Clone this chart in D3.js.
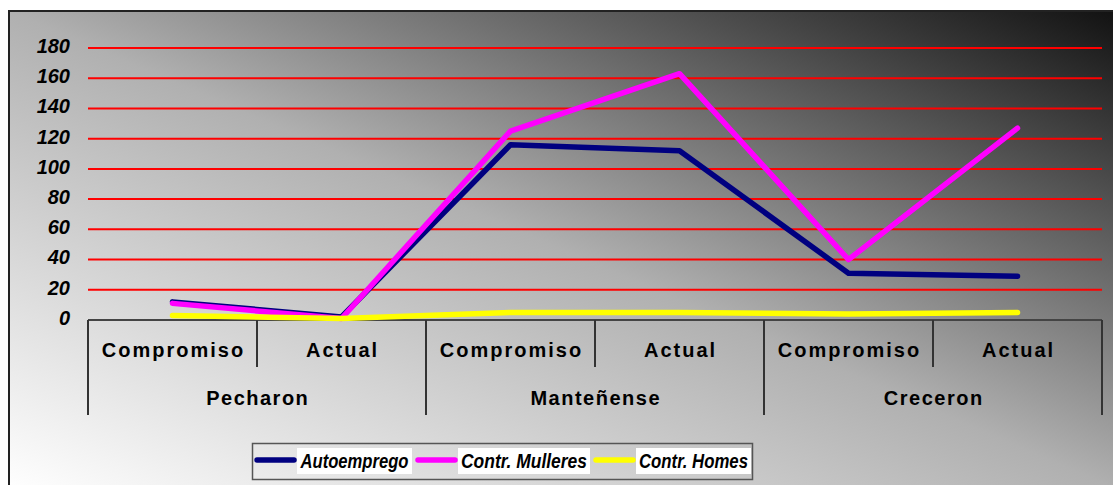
<!DOCTYPE html>
<html>
<head>
<meta charset="utf-8">
<script src="https://cdn.jsdelivr.net/npm/d3@7"></script>
<style>
  body { margin: 0; background: #fff; }
  text { font-family: "Liberation Sans", Arial, sans-serif; fill: #000; }
</style>
</head>
<body>
<div id="chart"></div>
<script>
// data
var groups = ["Pecharon", "Manteñense", "Creceron"];
var categories = ["Compromiso", "Actual"];
var yTicks = [0, 20, 40, 60, 80, 100, 120, 140, 160, 180];

var autoemprego = [12, 2, 116, 112, 31, 29];
var mulleres = [11, 1, 125, 163, 40, 127];
var homes = [3, 1, 5, 5, 4, 5];

var seriesNames = ["Autoemprego", "Contr. Mulleres", "Contr. Homes"];
var seriesColors = ["#000080", "#ff00ff", "#ffff00"];

var width = 1113;
var height = 485;

var svg = d3
  .select("#chart")
  .append("svg")
  .attr("width", width)
  .attr("height", height);

// background gradient, light bottom-left to dark top-right
var defs = svg.append("defs");
var grad = defs
  .append("linearGradient")
  .attr("id", "bg")
  .attr("x1", 0)
  .attr("y1", 1)
  .attr("x2", 1)
  .attr("y2", 0);
grad.append("stop").attr("offset", "0%").attr("stop-color", "#ffffff");
grad.append("stop").attr("offset", "50%").attr("stop-color", "#b0b0b0");
grad.append("stop").attr("offset", "100%").attr("stop-color", "#111111");

svg
  .append("rect")
  .attr("x", 9)
  .attr("y", 11)
  .attr("width", 1112)
  .attr("height", 480)
  .attr("fill", "url(#bg)")
  .attr("stroke", "#222")
  .attr("stroke-width", 2);

// every category slot: group x category
var slots = [];
groups.forEach(function (g) {
  categories.forEach(function (c) {
    slots.push({ group: g, cat: c });
  });
});

var plotLeft = 88;
var plotRight = 1102;
var plotTop = 48;
var plotBottom = 320;

var xScale = d3
  .scaleBand()
  .domain(d3.range(slots.length))
  .range([plotLeft, plotRight]);

var yScale = d3.scaleLinear().domain([0, 180]).range([plotBottom, plotTop]);

// gridlines
svg
  .append("g")
  .selectAll("line")
  .data(yTicks.filter(function (d) { return d > 0; }))
  .enter()
  .append("line")
  .attr("x1", plotLeft)
  .attr("x2", plotRight)
  .attr("y1", function (d) { return yScale(d); })
  .attr("y2", function (d) { return yScale(d); })
  .attr("stroke", "#ff0000")
  .attr("stroke-width", 2);

// y axis labels
var yAxis = d3.axisLeft(yScale).tickValues(yTicks).tickSize(0).tickPadding(18);
var yG = svg
  .append("g")
  .attr("transform", "translate(" + plotLeft + ",0)")
  .call(yAxis);
yG.select(".domain").remove();
yG.selectAll("text")
  .attr("dy", "0.22em")
  .style("font-size", "20px")
  .style("font-weight", "bold")
  .style("font-style", "italic")
  .style("fill", "#000");

// x axis base line
svg
  .append("line")
  .attr("x1", plotLeft)
  .attr("x2", plotRight)
  .attr("y1", plotBottom)
  .attr("y2", plotBottom)
  .attr("stroke", "#444")
  .attr("stroke-width", 2);

// category separators
var bw = xScale.bandwidth();
var sepG = svg.append("g").attr("stroke", "#333").attr("stroke-width", 2);
d3.range(slots.length + 1).forEach(function (i) {
  var x = plotLeft + i * bw;
  var isGroupEdge = i % categories.length === 0;
  sepG
    .append("line")
    .attr("x1", x)
    .attr("x2", x)
    .attr("y1", plotBottom)
    .attr("y2", isGroupEdge ? 415 : 367);
});

// category labels
svg
  .append("g")
  .selectAll("text")
  .data(slots)
  .enter()
  .append("text")
  .attr("x", function (d, i) { return xScale(i) + bw / 2 + 1; })
  .attr("y", 357)
  .attr("text-anchor", "middle")
  .style("font-size", "20px")
  .style("font-weight", "bold")
  .style("letter-spacing", "2px")
  .text(function (d) { return d.cat; });

// group labels
svg
  .append("g")
  .selectAll("text")
  .data(groups)
  .enter()
  .append("text")
  .attr("x", function (d, i) {
    return xScale(i * categories.length) + bw + 0.75;
  })
  .attr("y", 405)
  .attr("text-anchor", "middle")
  .style("font-size", "20px")
  .style("font-weight", "bold")
  .style("letter-spacing", "1.5px")
  .text(function (d) { return d; });

// series lines
var line = d3
  .line()
  .x(function (d, i) { return xScale(i) + bw / 2; })
  .y(function (d) { return yScale(d); });

[autoemprego, mulleres, homes].forEach(function (values, s) {
  svg
    .append("path")
    .attr("d", line(values))
    .attr("fill", "none")
    .attr("stroke", seriesColors[s])
    .attr("stroke-width", 5.5)
    .attr("stroke-linecap", "round")
    .attr("stroke-linejoin", "round");
});

// legend
var legend = svg.append("g");
legend
  .append("rect")
  .attr("x", 252.5)
  .attr("y", 443.5)
  .attr("width", 500)
  .attr("height", 36)
  .attr("fill", "none")
  .attr("stroke", "#555")
  .attr("stroke-width", 1.5);

var legendItems = [
  { swatch: 257, bgX: 297, bgW: 115, textW: 108 },
  { swatch: 418, bgX: 458, bgW: 132, textW: 126 },
  { swatch: 596, bgX: 636, bgW: 115, textW: 109 }
];

legendItems.forEach(function (item, s) {
  legend
    .append("line")
    .attr("x1", item.swatch)
    .attr("x2", item.swatch + 37)
    .attr("y1", 460)
    .attr("y2", 460)
    .attr("stroke", seriesColors[s])
    .attr("stroke-width", 5.5)
    .attr("stroke-linecap", "round");
  legend
    .append("rect")
    .attr("x", item.bgX)
    .attr("y", 448)
    .attr("width", item.bgW)
    .attr("height", 26)
    .attr("fill", "#fff");
  legend
    .append("text")
    .attr("x", item.bgX + (item.bgW - item.textW) / 2)
    .attr("y", 468)
    .attr("textLength", item.textW)
    .attr("lengthAdjust", "spacingAndGlyphs")
    .style("font-size", "21px")
    .style("font-weight", "bold")
    .style("font-style", "italic")
    .text(seriesNames[s]);
});
</script>
</body>
</html>
